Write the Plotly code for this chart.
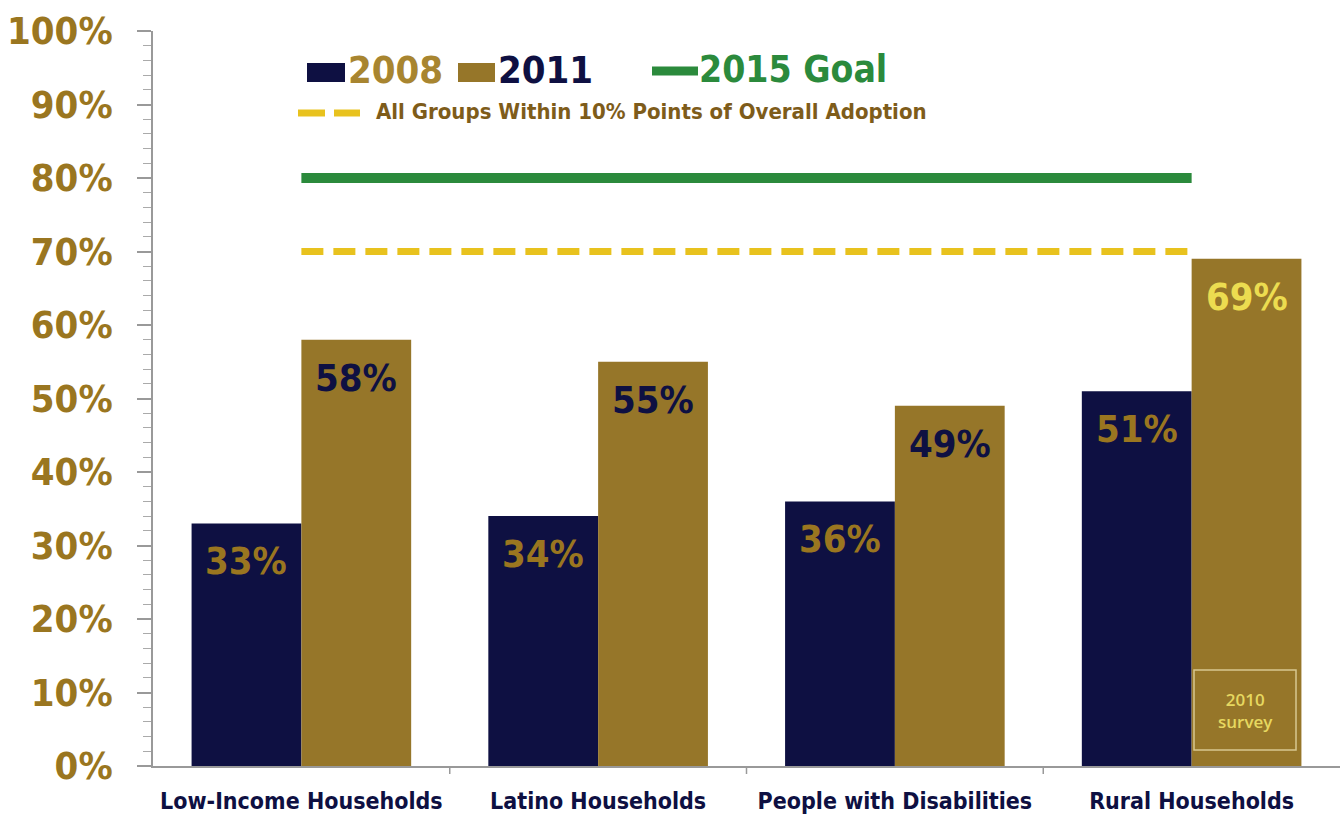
import plotly.graph_objects as go

categories = ["Low-Income Households", "Latino Households", "People with Disabilities", "Rural Households"]
values_2008 = [33, 34, 36, 51]
values_2011 = [58, 55, 49, 69]
goal_2015 = 80
within_10 = 70
y_ticks = [0, 10, 20, 30, 40, 50, 60, 70, 80, 90, 100]
y_tick_labels = [f"{v}%" for v in y_ticks]

NAVY = "#0e1042"
GOLD = "#967629"
GOLD_TXT = "#9a7620"
GREEN = "#2b8a3c"
YELLOW = "#e8c21e"
FONT = "DejaVu Sans Condensed, Liberation Sans Narrow, Arial Narrow, sans-serif"

L, R, T, B = 153, 0, 31, 49
W, H = 1340, 815
PW, PH = W - L - R, H - T - B
BARGAP = 0.26
BAR_PX = PW / len(categories) * (1 - BARGAP) / 2


def px(x):
    return (x - L) / PW


def py(y):
    return (H - B - y) / PH


fig = go.Figure()

fig.add_trace(go.Bar(
    x=categories, y=values_2008, name="2008",
    marker=dict(color=NAVY, line=dict(width=0)),
))
fig.add_trace(go.Bar(
    x=categories, y=values_2011, name="2011",
    marker=dict(color=GOLD, line=dict(width=0)),
))

fig.add_trace(go.Scatter(
    x=[categories[0], categories[-1]], y=[goal_2015, goal_2015], mode="lines",
    line=dict(color=GREEN, width=10), name="2015 Goal", hoverinfo="skip",
))
fig.add_trace(go.Scatter(
    x=[categories[0], categories[-1]], y=[within_10, within_10], mode="lines",
    line=dict(color=YELLOW, width=7, dash="22px,10px"), name="Within 10%", hoverinfo="skip",
))

shapes = []
annotations = []

# bar value labels
label_2008_colors = [GOLD_TXT, GOLD_TXT, GOLD_TXT, GOLD_TXT]
label_2011_colors = [NAVY, NAVY, NAVY, "#ecdc50"]
for i, c in enumerate(categories):
    for vals, cols, sgn in ((values_2008, label_2008_colors, -1), (values_2011, label_2011_colors, 1)):
        annotations.append(dict(
            x=c, y=vals[i], xref="x", yref="y", xshift=sgn * BAR_PX / 2, yshift=-38,
            text=f"<b>{vals[i]}%</b>", showarrow=False, xanchor="center", yanchor="middle",
            font=dict(family=FONT, size=38, color=cols[i]),
        ))

# legend row 1
shapes.append(dict(type="rect", xref="paper", yref="paper",
                   x0=px(307), x1=px(345), y0=py(82), y1=py(63),
                   fillcolor=NAVY, line=dict(width=0)))
annotations.append(dict(xref="paper", yref="paper", x=px(346), y=py(70), xanchor="left", yanchor="middle",
                        text="<b>2008</b>", showarrow=False,
                        font=dict(family=FONT, size=38, color="#a88530")))
shapes.append(dict(type="rect", xref="paper", yref="paper",
                   x0=px(458), x1=px(495), y0=py(82), y1=py(63),
                   fillcolor=GOLD, line=dict(width=0)))
annotations.append(dict(xref="paper", yref="paper", x=px(496), y=py(70), xanchor="left", yanchor="middle",
                        text="<b>2011</b>", showarrow=False,
                        font=dict(family=FONT, size=38, color=NAVY)))
shapes.append(dict(type="line", xref="paper", yref="paper",
                   x0=px(652), x1=px(698), y0=py(71), y1=py(71),
                   line=dict(color=GREEN, width=9)))
annotations.append(dict(xref="paper", yref="paper", x=px(697), y=py(70), xanchor="left", yanchor="middle",
                        text="<b>2015 Goal</b>", showarrow=False,
                        font=dict(family=FONT, size=37, color=GREEN)))
# legend row 2
shapes.append(dict(type="line", xref="paper", yref="paper",
                   x0=px(298), x1=px(325), y0=py(113), y1=py(113),
                   line=dict(color=YELLOW, width=7)))
shapes.append(dict(type="line", xref="paper", yref="paper",
                   x0=px(334), x1=px(360), y0=py(113), y1=py(113),
                   line=dict(color=YELLOW, width=7)))
annotations.append(dict(xref="paper", yref="paper", x=px(374), y=py(112), xanchor="left", yanchor="middle",
                        text="<b>All Groups Within 10% Points of Overall Adoption</b>", showarrow=False,
                        font=dict(family=FONT, size=22, color="#7e5c1a")))

# 2010 survey note
shapes.append(dict(type="rect", xref="paper", yref="paper",
                   x0=px(1194), x1=px(1296), y0=py(750), y1=py(670),
                   fillcolor="rgba(0,0,0,0)", line=dict(color="#d8c890", width=1.5)))
annotations.append(dict(xref="paper", yref="paper", x=px(1245), y=py(710), xanchor="center", yanchor="middle",
                        text="2010<br>survey", showarrow=False,
                        font=dict(family="Open Sans, DejaVu Sans, sans-serif", size=17, color="#e6d860", weight=600)))

fig.update_layout(
    width=W, height=H,
    margin=dict(l=L, r=R, t=T, b=B, pad=0, autoexpand=False),
    paper_bgcolor="white", plot_bgcolor="white",
    barmode="group", bargap=BARGAP, bargroupgap=0,
    showlegend=False,
    shapes=shapes, annotations=annotations,
)
fig.update_xaxes(
    type="category", range=[-0.5, 3.5], automargin=False,
    showline=True, linecolor="#999999", linewidth=1.5,
    showgrid=False, ticks="",
    tickfont=dict(family=FONT, size=23, color=NAVY, weight="bold"),
    ticklabelstandoff=14,
)
fig.update_yaxes(
    range=[0, 100], tickvals=y_ticks, ticktext=y_tick_labels, automargin=False,
    showline=True, linecolor="#999999", linewidth=1.5,
    showgrid=False, zeroline=False,
    ticks="outside", ticklen=14, tickcolor="#999999", tickwidth=1.5,
    minor=dict(dtick=2, ticks="outside", ticklen=8, tickcolor="#aaaaaa", tickwidth=1),
    tickfont=dict(family=FONT, size=38, color=GOLD_TXT, weight="bold"),
    ticklabelstandoff=17,
)

# category divider ticks on the x axis
for i in range(1, len(categories)):
    fig.add_shape(type="line", xref="x", yref="paper",
                  x0=i - 0.5, x1=i - 0.5, y0=0, y1=-8 / PH,
                  line=dict(color="#999999", width=1.5))

fig.write_html("out.html", config={"displayModeBar": False},
               post_script="document.body.style.margin='0';document.body.style.overflow='hidden';")
